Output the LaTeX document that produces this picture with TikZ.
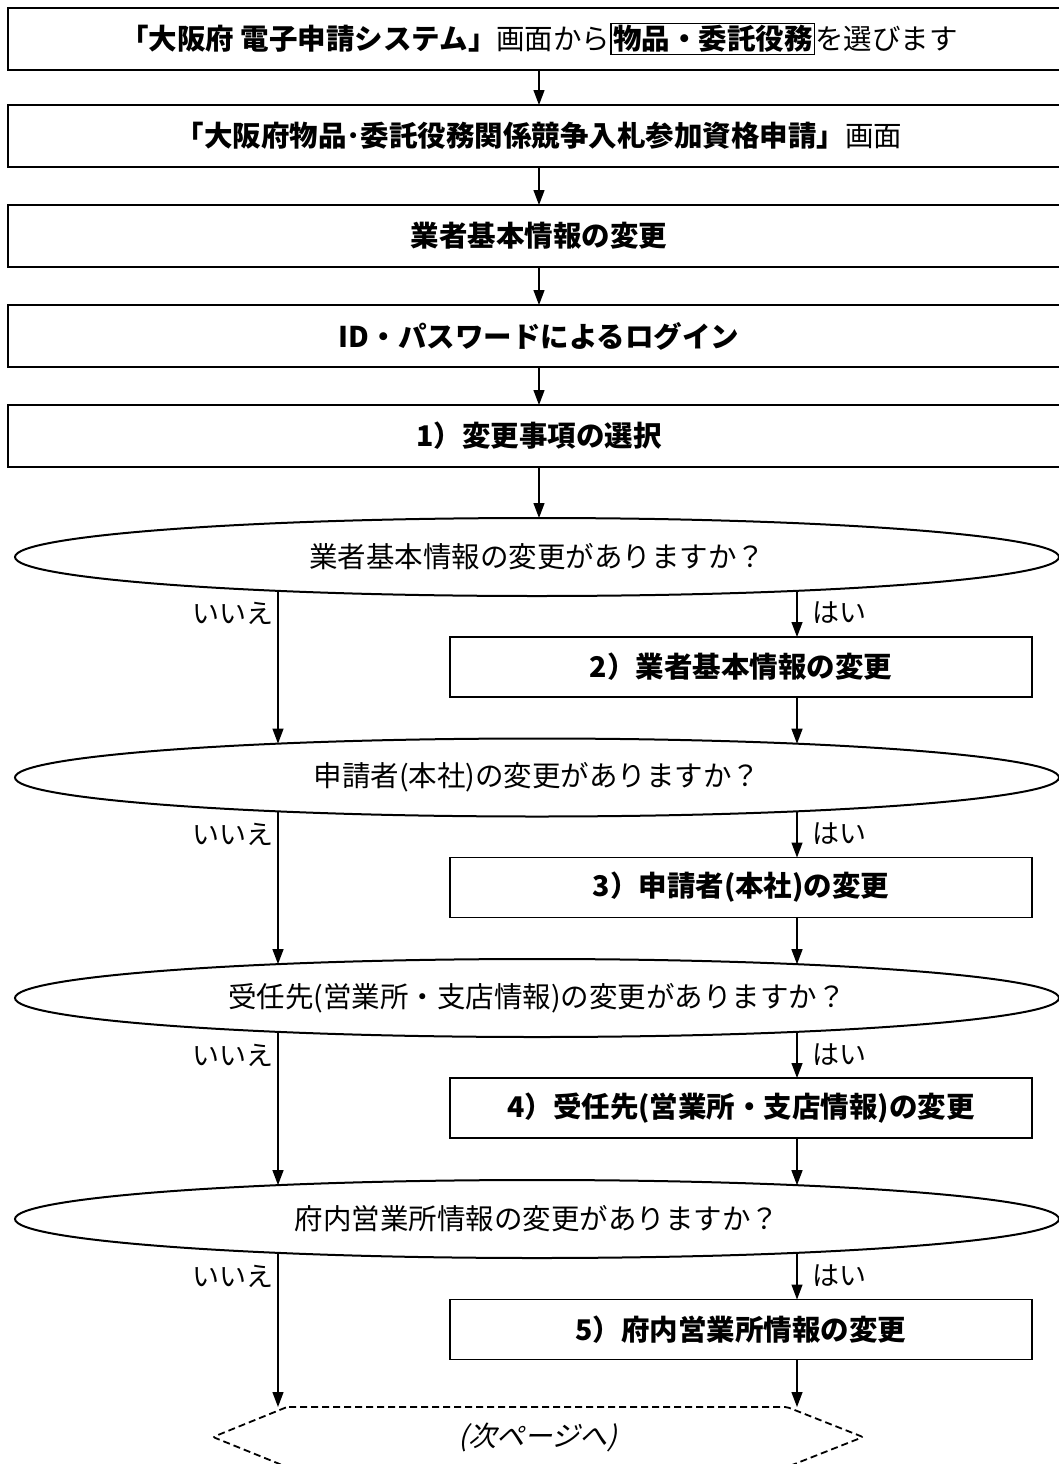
\documentclass[tikz,border=0pt]{standalone}
\usepackage{fontspec}
\setmainfont{Noto Sans CJK JP}
\newfontfamily\slfont[FakeSlant=0.25]{Noto Sans CJK JP}
\usetikzlibrary{shapes.geometric,arrows.meta,calc}
\begin{document}
\begin{tikzpicture}[x=1pt,y=-1pt,
  topbox/.style={draw, line width=2pt, minimum width=1062pt, minimum height=62pt,
    inner sep=0pt, outer sep=0pt, font=\fontsize{28.5}{34}\selectfont},
  subbox/.style={draw, line width=1.5pt, minimum width=582pt, minimum height=60pt,
    inner sep=0pt, outer sep=0pt, font=\bfseries\fontsize{28.5}{34}\selectfont},
  question/.style={draw, ellipse, line width=2pt, minimum width=1044pt, minimum height=78pt,
    inner sep=0pt, outer sep=0pt, font=\fontsize{28.5}{34}\selectfont},
  answer/.style={inner sep=0pt, font=\fontsize{27}{32}\selectfont},
  flow/.style={line width=1.3pt, -{Triangle[length=15pt,width=11pt]}},
  nextpage/.style={draw, line width=1.8pt, dash pattern=on 7pt off 4pt, rounded corners=2pt},
  nexttext/.style={inner sep=0pt, font=\slfont\fontsize{28}{34}\selectfont}
]
\useasboundingbox (0,0) rectangle (1059,1464);
\clip (0,0) rectangle (1059,1464);

% top chain
\node[topbox] (b1) at (539,39) {{\bfseries 「大阪府 電子申請システム」}画面から{\fboxsep=1pt\fboxrule=1.6pt\fbox{\bfseries 物品・委託役務}}を選びます};
\node[topbox] (b2) at (539,136) {{\bfseries 「大阪府物品･委託役務関係競争入札参加資格申請」}画面};
\node[topbox, font=\bfseries\fontsize{28.5}{34}\selectfont] (b3) at (539,236) {業者基本情報の変更};
\node[topbox, font=\bfseries\fontsize{28.5}{34}\selectfont] (b4) at (539,336) {ID・パスワードによるログイン};
\node[topbox, font=\bfseries\fontsize{28.5}{34}\selectfont] (b5) at (539,436) {1）変更事項の選択};

\draw[flow] (b1) -- (b2);
\draw[flow] (b2) -- (b3);
\draw[flow] (b3) -- (b4);
\draw[flow] (b4) -- (b5);

% questions
\node[question] (e1) at (537,557) {業者基本情報の変更がありますか？};
\node[question] (e2) at (537,777.5) {申請者(本社)の変更がありますか？};
\node[question] (e3) at (537,998) {受任先(営業所・支店情報)の変更がありますか？};
\node[question] (e4) at (537,1219) {府内営業所情報の変更がありますか？};

\draw[flow] (b5.south) -- (b5.south |- e1.north);

% points where the branch lines meet the ellipses
\foreach \e in {e1,e2,e3,e4}{
  \coordinate (\e lb) at ($(\e.center)+(-259,33.9)$);
  \coordinate (\e lt) at ($(\e.center)+(-259,-33.9)$);
  \coordinate (\e rb) at ($(\e.center)+(260,33.8)$);
  \coordinate (\e rt) at ($(\e.center)+(260,-33.8)$);
}

% sub boxes
\node[subbox] (r1) at (741,667) {2）業者基本情報の変更};
\node[subbox] (r2) at (741,887.5) {3）申請者(本社)の変更};
\node[subbox] (r3) at (741,1108) {4）受任先(営業所・支店情報)の変更};
\node[subbox] (r4) at (741,1329.5) {5）府内営業所情報の変更};

% labels
\foreach \e/\y in {e1/613,e2/834,e3/1055,e4/1276}{
  \node[answer, anchor=east] (no\e) at (274,\y) {いいえ};
  \node[answer, anchor=west] (yes\e) at (812,\y) {はい};
}

% next page hexagon
\node[nexttext] (hx) at (538,1437) {(次ページへ)};
\draw[nextpage] (287,1407) -- (787,1407) -- (863,1437) -- (787,1467) -- (287,1467) -- (213,1437) -- cycle;
\coordinate (hxl) at (278,1407);
\coordinate (hxr) at (797,1407);

% connectors: no-branches
\draw[flow] (e1lb) -- (e2lt);
\draw[flow] (e2lb) -- (e3lt);
\draw[flow] (e3lb) -- (e4lt);
\draw[flow] (e4lb) -- (hxl);

% yes-branches
\draw[flow] (e1rb) -- (e1rb |- r1.north);
\draw[flow] (r1.south -| e2rt) -- (e2rt);
\draw[flow] (e2rb) -- (e2rb |- r2.north);
\draw[flow] (r2.south -| e3rt) -- (e3rt);
\draw[flow] (e3rb) -- (e3rb |- r3.north);
\draw[flow] (r3.south -| e4rt) -- (e4rt);
\draw[flow] (e4rb) -- (e4rb |- r4.north);
\draw[flow] (r4.south -| hxr) -- (hxr);
\end{tikzpicture}
\end{document}
